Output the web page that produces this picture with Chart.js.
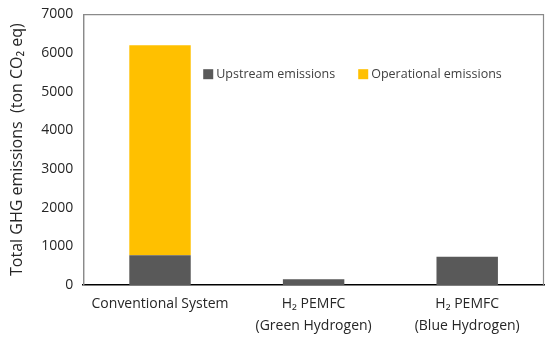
<!DOCTYPE html>
<html>
<head>
<meta charset="utf-8">
<script src="https://cdn.jsdelivr.net/npm/chart.js@4/dist/chart.umd.min.js"></script>
<style>
  html, body { margin: 0; padding: 0; background: #fff; }
  #wrap { width: 550px; height: 340px; }
</style>
</head>
<body>
<div id="wrap"><canvas id="barChart"></canvas></div>
<script>
var categories = [
    "Conventional System",
    ["H\u2082 PEMFC", "(Green Hydrogen)"],
    ["H\u2082 PEMFC", "(Blue Hydrogen)"]
];
var upstream = [770, 150, 730];
var operational = [5430, 0, 0];
var yTicks = [0, 1000, 2000, 3000, 4000, 5000, 6000, 7000];

var fontFam = "'Open Sans', 'Liberation Sans', sans-serif";

// gray frame round the plot area, like the spreadsheet chart
var plotBox = {
    id: 'plotBox',
    afterDraw: function(chart) {
        var a = chart.chartArea, ctx = chart.ctx;
        ctx.save();
        ctx.strokeStyle = '#8a8a8a';
        ctx.lineWidth = 1.2;
        ctx.beginPath();
        ctx.moveTo(a.left + 0.5, a.bottom);
        ctx.lineTo(a.left + 0.5, a.top + 0.5);
        ctx.lineTo(a.right - 0.5, a.top + 0.5);
        ctx.lineTo(a.right - 0.5, a.bottom);
        ctx.stroke();
        ctx.restore();
    }
};

// legend drawn inside the plot area
var innerLegend = {
    id: 'innerLegend',
    afterDraw: function(chart) {
        var a = chart.chartArea, ctx = chart.ctx;
        var xs = [a.left + 120, a.left + 275];
        var y = a.top + 60;
        ctx.save();
        ctx.font = '12.5px ' + fontFam;
        ctx.textBaseline = 'middle';
        chart.data.datasets.forEach(function(ds, i) {
            ctx.fillStyle = ds.backgroundColor;
            ctx.fillRect(xs[i], y - 5, 10, 10);
            ctx.fillStyle = '#404040';
            ctx.fillText(ds.label, xs[i] + 13, y);
        });
        ctx.restore();
    }
};

var barChart = document.getElementById('barChart');

var myChart = new Chart(barChart, {
    type: 'bar',
    data: {
        labels: categories,
        datasets: [
            {
                label: "Upstream emissions",
                data: upstream,
                backgroundColor: "#595959",
                categoryPercentage: 0.4,
                barPercentage: 1
            },
            {
                label: "Operational emissions",
                data: operational,
                backgroundColor: "#ffc000",
                categoryPercentage: 0.4,
                barPercentage: 1
            }
        ]
    },
    options: {
        responsive: true,
        maintainAspectRatio: false,
        animation: false,
        layout: { padding: { top: 0, right: 6, left: 4, bottom: 0 } },
        plugins: {
            legend: { display: false },
            tooltip: { enabled: false }
        },
        scales: {
            x: {
                stacked: true,
                grid: { display: false, drawTicks: false },
                border: { color: '#000', width: 1.5 },
                afterFit: function(axis) { axis.height = 55; },
                ticks: {
                    color: '#262626',
                    padding: 8,
                    maxRotation: 0,
                    font: { family: fontFam, size: 14, lineHeight: 1.55 }
                }
            },
            y: {
                stacked: true,
                min: 0,
                max: 7000,
                afterBuildTicks: function(axis) {
                    axis.ticks = yTicks.map(function(v) { return { value: v }; });
                },
                grid: { display: false, drawTicks: false },
                border: { color: '#8a8a8a', width: 1.2 },
                ticks: {
                    color: '#262626',
                    padding: 10,
                    font: { family: fontFam, size: 14, lineHeight: 0.6 },
                    callback: function(v) { return String(v); }
                },
                title: {
                    display: true,
                    text: 'Total GHG emissions  (ton CO\u2082 eq)',
                    color: '#262626',
                    font: { family: fontFam, size: 16 }
                }
            }
        }
    },
    plugins: [plotBox, innerLegend]
});
</script>
</body>
</html>
